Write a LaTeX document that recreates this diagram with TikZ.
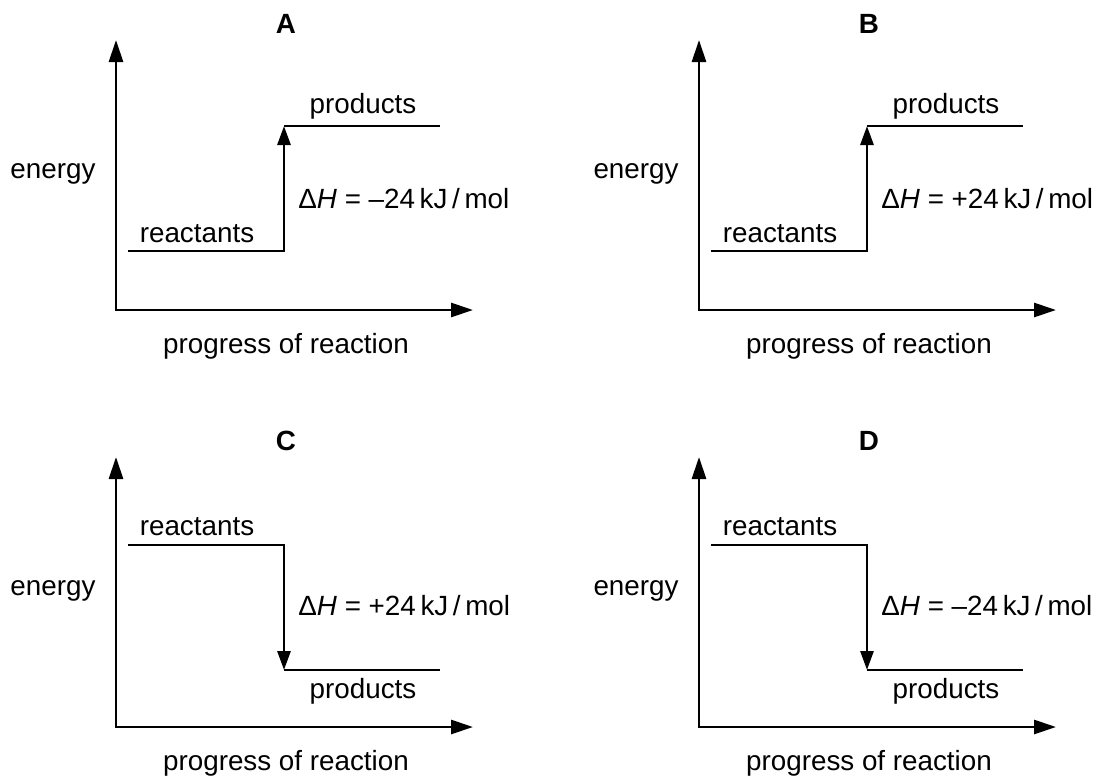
\documentclass[tikz,border=0pt]{standalone}
\usepackage{fontspec}
\setmainfont{Liberation Sans}
\usetikzlibrary{arrows.meta}
\tikzstyle{lbl}=[font=\fontsize{13.9}{16.7}\selectfont, inner sep=0pt, anchor=base]
\tikzstyle{ttl}=[lbl, font=\fontsize{13.9}{16.7}\selectfont\bfseries]
\tikzstyle{axes}=[{Triangle[length=11pt,width=7pt]}-{Triangle[length=11pt,width=7pt]}, line width=1.4pt]
\tikzstyle{dh}=[-{Triangle[length=9.5pt,width=6.5pt]}, line width=1.4pt]
\tikzstyle{level}=[line width=1.4pt]

\begin{document}
\begin{tikzpicture}[x=0.5pt,y=-0.5pt]
\useasboundingbox (0,0) rectangle (1094,778);
% A: endothermic sketch, wrong sign
\begin{scope}[name prefix=A-]
\coordinate (O) at (116,310);
\coordinate (Y) at (116,40);
\coordinate (X) at (473,310);
\coordinate (R0) at (128,251);
\coordinate (R1) at (284,251);
\coordinate (P0) at (284,126);
\coordinate (P1) at (440,126);
\node[ttl] (tag) at (286,33) {A};
\node[lbl] (en) at (53,178) {energy};
\node[lbl] (prog) at (286,353) {progress of reaction};
\node[lbl] (react) at (197,242) {reactants};
\node[lbl] (prod) at (363,113) {products};
\node[lbl, anchor=base west] (dH) at (298,208) {Δ\textit{H} = –24\,kJ\,/\,mol};
\draw[axes] (Y) -- (O) -- (X);
\draw[dh] (R0) -- (R1) -- (P0);
\draw[level] (P0) -- (P1);
\end{scope}
% B: endothermic sketch
\begin{scope}[shift={(583,0)}, name prefix=B-]
\coordinate (O) at (116,310);
\coordinate (Y) at (116,40);
\coordinate (X) at (473,310);
\coordinate (R0) at (128,251);
\coordinate (R1) at (284,251);
\coordinate (P0) at (284,126);
\coordinate (P1) at (440,126);
\node[ttl] (tag) at (286,33) {B};
\node[lbl] (en) at (53,178) {energy};
\node[lbl] (prog) at (286,353) {progress of reaction};
\node[lbl] (react) at (197,242) {reactants};
\node[lbl] (prod) at (363,113) {products};
\node[lbl, anchor=base west] (dH) at (298,208) {Δ\textit{H} = +24\,kJ\,/\,mol};
\draw[axes] (Y) -- (O) -- (X);
\draw[dh] (R0) -- (R1) -- (P0);
\draw[level] (P0) -- (P1);
\end{scope}
% C: exothermic sketch, wrong sign
\begin{scope}[shift={(0,417)}, name prefix=C-]
\coordinate (O) at (116,310);
\coordinate (Y) at (116,40);
\coordinate (X) at (473,310);
\coordinate (R0) at (128,128);
\coordinate (R1) at (284,128);
\coordinate (P0) at (284,253);
\coordinate (P1) at (440,253);
\node[ttl] (tag) at (286,33) {C};
\node[lbl] (en) at (53,178) {energy};
\node[lbl] (prog) at (286,353) {progress of reaction};
\node[lbl] (react) at (197,118) {reactants};
\node[lbl] (prod) at (363,281) {products};
\node[lbl, anchor=base west] (dH) at (298,198) {Δ\textit{H} = +24\,kJ\,/\,mol};
\draw[axes] (Y) -- (O) -- (X);
\draw[dh] (R0) -- (R1) -- (P0);
\draw[level] (P0) -- (P1);
\end{scope}
% D: exothermic sketch
\begin{scope}[shift={(583,417)}, name prefix=D-]
\coordinate (O) at (116,310);
\coordinate (Y) at (116,40);
\coordinate (X) at (473,310);
\coordinate (R0) at (128,128);
\coordinate (R1) at (284,128);
\coordinate (P0) at (284,253);
\coordinate (P1) at (440,253);
\node[ttl] (tag) at (286,33) {D};
\node[lbl] (en) at (53,178) {energy};
\node[lbl] (prog) at (286,353) {progress of reaction};
\node[lbl] (react) at (197,118) {reactants};
\node[lbl] (prod) at (363,281) {products};
\node[lbl, anchor=base west] (dH) at (298,198) {Δ\textit{H} = –24\,kJ\,/\,mol};
\draw[axes] (Y) -- (O) -- (X);
\draw[dh] (R0) -- (R1) -- (P0);
\draw[level] (P0) -- (P1);
\end{scope}
\end{tikzpicture}
\end{document}
